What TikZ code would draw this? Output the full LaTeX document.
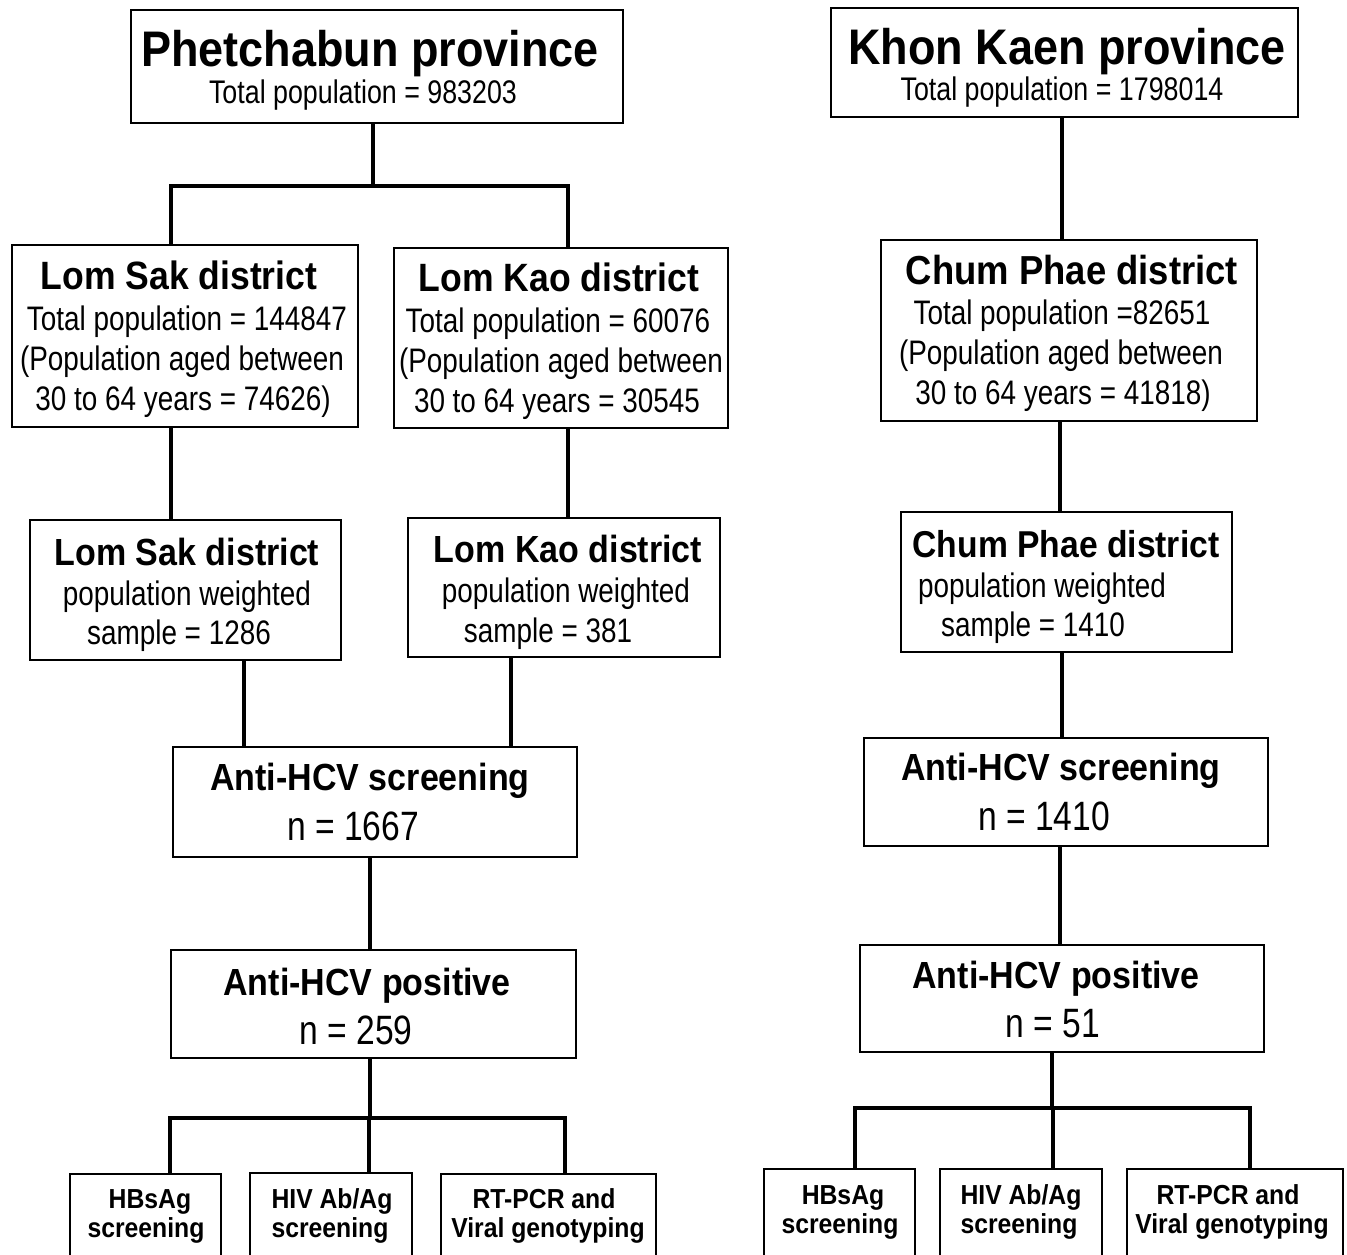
\documentclass[tikz,border=0pt]{standalone}
\usepackage{fontspec}
\setmainfont{Liberation Sans}
\newfontfamily\rgf[FakeStretch=0.82]{Liberation Sans}
\newfontfamily\bdf[FakeStretch=0.9]{Liberation Sans}
\usetikzlibrary{fit}
\tikzset{
  box/.style={draw=black, line width=2.6pt, inner sep=0pt, outer sep=0pt, fill=none},
  conn/.style={draw=black, line width=4.5pt, line join=miter, line cap=butt},
  tx/.style={anchor=base, inner sep=0pt, outer sep=0pt},
  ptitle/.style={tx, font=\bdf\bfseries\fontsize{50}{60}\selectfont},
  dtitle/.style={tx, font=\bdf\bfseries\fontsize{39.5}{46}\selectfont},
  wtitle/.style={tx, font=\bdf\bfseries\fontsize{37.8}{44}\selectfont},
  atitle/.style={tx, font=\bdf\bfseries\fontsize{37.8}{44}\selectfont},
  btitle/.style={tx, font=\bdf\bfseries\fontsize{27.5}{32}\selectfont},
  psub/.style={tx, font=\rgf\fontsize{32.7}{38}\selectfont},
  dsub/.style={tx, font=\rgf\fontsize{34}{40}\selectfont},
  nsub/.style={tx, font=\rgf\fontsize{41}{48}\selectfont},
}
\newcommand\mybox[5]{\node[box, fit={(#2,#3) (#4,#5)}] (#1) {};}
\begin{document}
\begin{tikzpicture}[x=1pt,y=-1pt]
\useasboundingbox (0,0) rectangle (1347,1254);
\clip (0,0) rectangle (1347,1254);
\fill[white] (0,0) rectangle (1347,1254);
% boxes
\mybox{ps}{131}{10}{623}{123}
\mybox{kk}{831}{8}{1298}{117}
\mybox{ls}{12}{245}{358}{427}
\mybox{lk}{394}{248}{728}{428}
\mybox{cp}{881}{240}{1257}{421}
\mybox{lsw}{30}{520}{341}{660}
\mybox{lkw}{408}{518}{720}{657}
\mybox{cpw}{901}{512}{1232}{652}
\mybox{asl}{173}{747}{577}{857}
\mybox{asr}{864}{738}{1268}{846}
\mybox{apl}{171}{950}{576}{1058}
\mybox{apr}{860}{945}{1264}{1052}
\mybox{bla}{70}{1174}{221}{1300}
\mybox{blb}{250}{1173}{412}{1300}
\mybox{blc}{441}{1174}{656}{1300}
\mybox{bra}{764}{1169}{915}{1300}
\mybox{brb}{940}{1169}{1102}{1300}
\mybox{brc}{1127}{1169}{1343}{1300}
% texts
\node[ptitle] (t1) at (370,66) {Phetchabun province};
\node[psub] (t2) at (363,103) {Total population = 983203};
\node[ptitle] (t3) at (1067,64) {Khon Kaen province};
\node[psub] (t4) at (1062,100) {Total population = 1798014};
\node[dtitle] (t5) at (179,289) {Lom Sak district};
\node[dsub] (t6) at (187,330) {Total population = 144847};
\node[dsub] (t7) at (182,370) {(Population aged between};
\node[dsub] (t8) at (183,410) {30 to 64 years = 74626)};
\node[dtitle] (t9) at (559,291) {Lom Kao district};
\node[dsub] (t10) at (558,332) {Total population = 60076};
\node[dsub] (t11) at (561,372) {(Population aged between};
\node[dsub] (t12) at (557,412) {30 to 64 years = 30545};
\node[dtitle, font=\bdf\bfseries\fontsize{40.5}{46}\selectfont] (t13) at (1072,284) {Chum Phae district};
\node[dsub] (t14) at (1062,324) {Total population =82651};
\node[dsub] (t15) at (1061,364) {(Population aged between};
\node[dsub] (t16) at (1063,404) {30 to 64 years = 41818)};
\node[wtitle] (t17) at (187,565) {Lom Sak district};
\node[dsub] (t18) at (187,605) {population weighted};
\node[dsub] (t19) at (179,644) {sample = 1286};
\node[wtitle] (t20) at (568,562) {Lom Kao district};
\node[dsub] (t21) at (566,602) {population weighted};
\node[dsub] (t22) at (548,642) {sample = 381};
\node[wtitle, font=\bdf\bfseries\fontsize{37.4}{44}\selectfont] (t23) at (1066,557) {Chum Phae district};
\node[dsub] (t24) at (1042,597) {population weighted};
\node[dsub] (t25) at (1033,636) {sample = 1410};
\node[atitle] (t26) at (370,790) {Anti-HCV screening};
\node[nsub] (t27) at (353,840) {n = 1667};
\node[atitle] (t28) at (1061,780) {Anti-HCV screening};
\node[nsub] (t29) at (1044,830) {n = 1410};
\node[atitle] (t30) at (367,995) {Anti-HCV positive};
\node[nsub] (t31) at (356,1044) {n = 259};
\node[atitle] (t32) at (1056,988) {Anti-HCV positive};
\node[nsub] (t33) at (1053,1037) {n = 51};
\node[btitle] (t34) at (150,1208) {HBsAg};
\node[btitle] (t35) at (146,1237) {screening};
\node[btitle] (t36) at (332,1208) {HIV Ab/Ag};
\node[btitle] (t37) at (330,1237) {screening};
\node[btitle] (t38) at (544,1208) {RT-PCR and};
\node[btitle] (t39) at (548,1237) {Viral genotyping};
\node[btitle] (t40) at (843,1204) {HBsAg};
\node[btitle] (t41) at (840,1233) {screening};
\node[btitle] (t42) at (1021,1204) {HIV Ab/Ag};
\node[btitle] (t43) at (1019,1233) {screening};
\node[btitle] (t44) at (1228,1204) {RT-PCR and};
\node[btitle] (t45) at (1232,1233) {Viral genotyping};
% junction coordinates
\coordinate (j1) at (373,186);
\coordinate (j1l) at (171,186);
\coordinate (j1r) at (568,186);
\coordinate (xkk) at (1062,0);
\coordinate (xls) at (171,0);
\coordinate (xlk) at (568,0);
\coordinate (xcp) at (1060,0);
\coordinate (xlsw) at (244,0);
\coordinate (xlkw) at (511,0);
\coordinate (xcpw) at (1062,0);
\coordinate (xasl) at (370,0);
\coordinate (xasr) at (1060,0);
\coordinate (j2) at (370,1118);
\coordinate (j2l) at (170,1118);
\coordinate (j2m) at (369,1118);
\coordinate (j2r) at (565,1118);
\coordinate (j3) at (1052,1108);
\coordinate (j3l) at (855,1108);
\coordinate (j3m) at (1053,1108);
\coordinate (j3r) at (1250,1108);
% connectors
\draw[conn] (ps.south -| j1) -- (j1);
\draw[conn] (ls.north -| j1l) -- (j1l) -- (j1r) -- (lk.north -| j1r);
\draw[conn] (kk.south -| xkk) -- (cp.north -| xkk);
\draw[conn] (ls.south -| xls) -- (lsw.north -| xls);
\draw[conn] (lk.south -| xlk) -- (lkw.north -| xlk);
\draw[conn] (cp.south -| xcp) -- (cpw.north -| xcp);
\draw[conn] (lsw.south -| xlsw) -- (asl.north -| xlsw);
\draw[conn] (lkw.south -| xlkw) -- (asl.north -| xlkw);
\draw[conn] (cpw.south -| xcpw) -- (asr.north -| xcpw);
\draw[conn] (asl.south -| xasl) -- (apl.north -| xasl);
\draw[conn] (asr.south -| xasr) -- (apr.north -| xasr);
\draw[conn] (apl.south -| j2) -- (j2);
\draw[conn] (bla.north -| j2l) -- (j2l) -- (j2r) -- (blc.north -| j2r);
\draw[conn] (j2m) -- (blb.north -| j2m);
\draw[conn] (apr.south -| j3) -- (j3);
\draw[conn] (bra.north -| j3l) -- (j3l) -- (j3r) -- (brc.north -| j3r);
\draw[conn] (j3m) -- (brb.north -| j3m);
\end{tikzpicture}
\end{document}
